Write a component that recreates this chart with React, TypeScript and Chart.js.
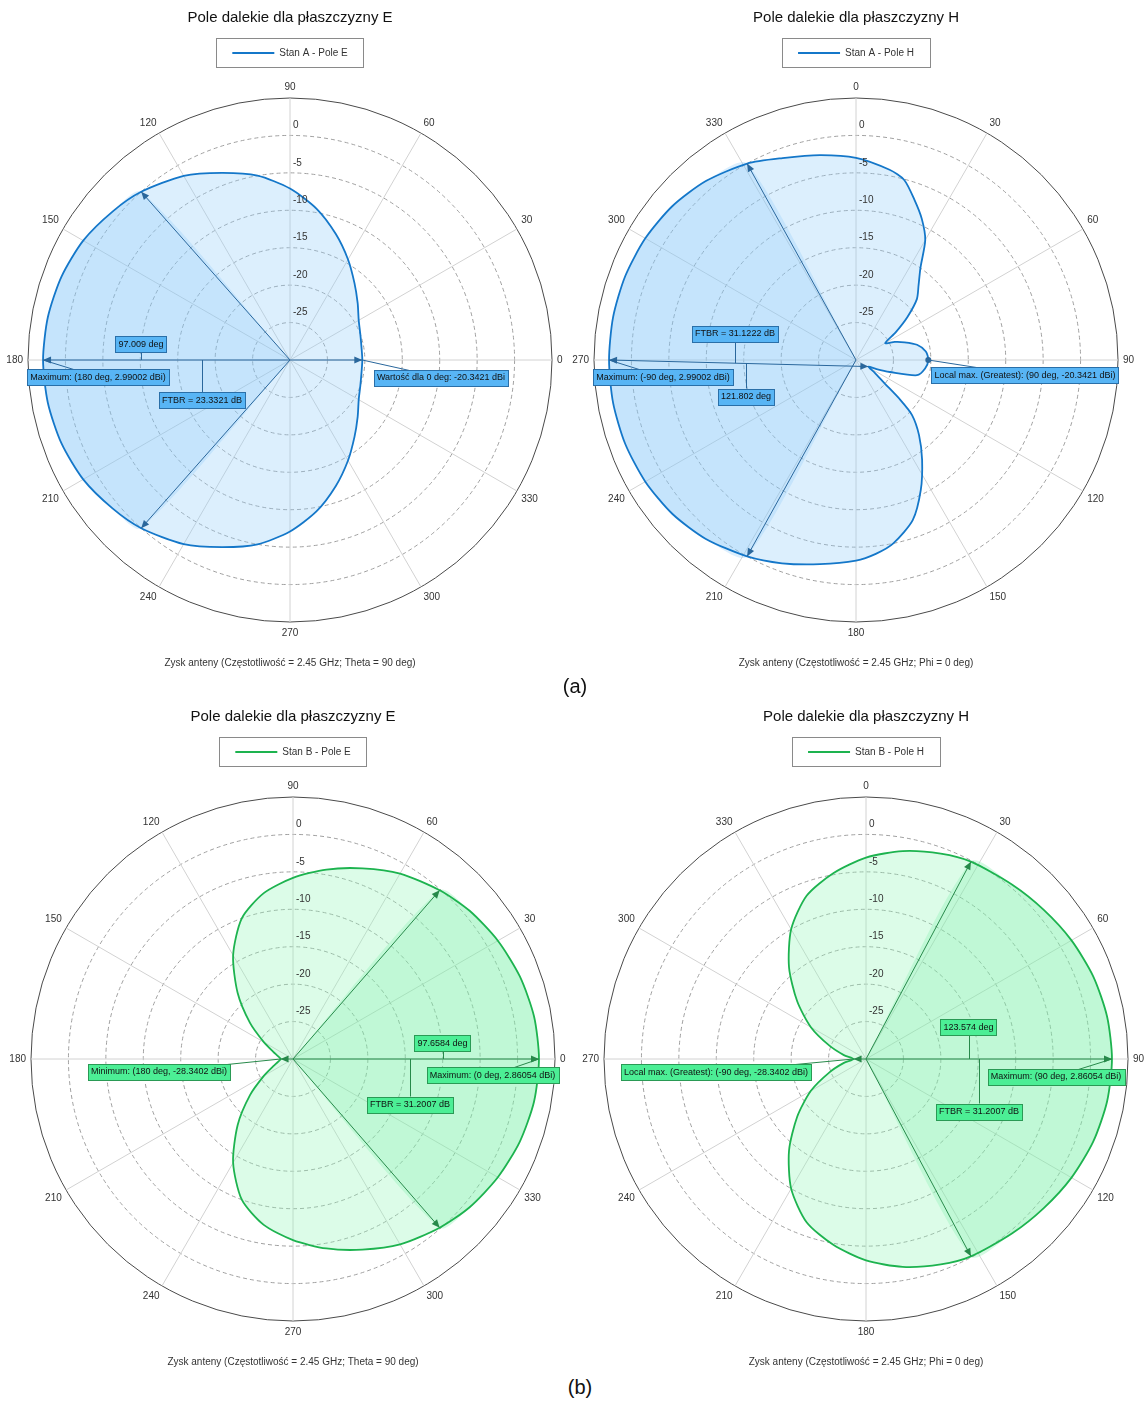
import React, { useEffect, useRef } from 'react';
import { Chart, registerables, layouts } from 'chart.js';

Chart.register(...registerables);

const FONT = "'Liberation Sans', Arial, Helvetica, sans-serif";

// ---------------- data ----------------
const R_MIN = -30;
const R_MAX = 5;
const R_STEP = 5;
const TICK_VALUES = [0, -5, -10, -15, -20, -25];
const ANGLE_STEP = 0.5; // resolution of the angular category axis (deg)

// Stan A - Pole E (Theta = 90 deg); angle = azimuth in deg
const AE_ANGLES = [0, 10, 20, 30, 40, 50, 60, 70, 80, 90, 100, 110, 120, 131.5, 140, 150, 160, 170, 180, 190, 200, 210, 220, 228.5, 240, 250, 260, 270, 280, 290, 300, 310, 320, 330, 340, 350];
const AE_GAINS = [-20.34, -20.3, -20.0, -19.4, -18.2, -16.6, -14.5, -12.1, -9.5, -7.1, -5.0, -3.4, -1.6, 0.0, 0.9, 1.9, 2.5, 2.85, 2.99, 2.85, 2.5, 1.9, 0.9, 0.0, -1.6, -3.4, -5.0, -7.1, -9.5, -12.1, -14.5, -16.6, -18.2, -19.4, -20.0, -20.3];
const AE_BEAM = [131.5, 228.5];
const AE_MAX = [180, 2.99002];
const AE_BACK = [0, -20.3421];

// Stan A - Pole H (Phi = 0 deg)
const AH_ANGLES = [0, 10, 15, 20, 25, 30, 35, 40, 45, 50, 55, 60, 65, 70, 76, 83, 90, 97, 104, 109.5, 114, 118, 124, 129, 132, 134.5, 140, 146.5, 153.5, 160.5, 168.5, 174, 180, 190, 200, 209, 220, 230, 240, 250, 260, 270, 280, 290, 300, 310, 320, 331, 340, 350];
const AH_GAINS = [-3.0, -4.2, -5.1, -7.2, -9.2, -11.5, -15.0, -17.0, -18.5, -21.0, -23.5, -25.5, -24.3, -23.1, -21.6, -20.6, -20.34, -20.7, -21.6, -25.2, -27.0, -28.13, -27.0, -25.2, -22.0, -19.5, -16.9, -14.0, -10.6, -7.3, -5.0, -4.0, -3.2, -2.3, -1.1, 0, 1.2, 2.0, 2.5, 2.8, 2.95, 2.99, 2.95, 2.8, 2.5, 2.0, 1.2, 0, -1.3, -2.2];
const AH_BEAM = [209, 331];
const AH_MAX = [270, 2.99002];
const AH_BACK = [118, -28.13];
const AH_LOCAL = [90, -20.3421];

// Stan B - Pole E (Theta = 90 deg)
const BE_ANGLES = [0, 10, 20, 30, 40, 49, 60, 70, 80, 90, 100, 110, 120, 130, 140, 150, 160, 170, 180, 190, 200, 210, 220, 230, 240, 250, 260, 270, 280, 290, 300, 311, 320, 330, 340, 350];
const BE_GAINS = [2.86, 2.7, 2.25, 1.6, 0.8, -0.14, -1.4, -2.9, -4.3, -5.8, -7.5, -10, -14, -18.5, -22.5, -25.5, -27.2, -28.0, -28.34, -28.0, -27.2, -25.5, -22.5, -18.5, -14, -10, -7.5, -5.8, -4.3, -2.9, -1.4, -0.14, 0.8, 1.6, 2.25, 2.7];
const BE_BEAM = [311, 49];
const BE_MAX = [0, 2.86054];
const BE_BACK = [180, -28.3402];

// Stan B - Pole H (Phi = 0 deg)
const BH_ANGLES = [0, 10, 20, 28, 40, 50, 60, 70, 80, 90, 100, 110, 120, 130, 140, 152, 160, 170, 180, 190, 200, 210, 220, 230, 240, 250, 260, 270, 280, 290, 300, 310, 320, 330, 340, 350];
const BH_GAINS = [-3.1, -1.8, -0.8, -0.14, 0.4, 1.0, 1.7, 2.3, 2.7, 2.86, 2.7, 2.3, 1.7, 1.0, 0.4, -0.14, -0.8, -1.8, -3.1, -4.8, -6.8, -10, -14, -18, -21.5, -24.8, -27, -28.34, -27, -24.8, -21.5, -18, -14, -10, -6.8, -4.8];
const BH_BEAM = [28, 152];
const BH_MAX = [90, 2.86054];
const BH_BACK = [270, -28.3402];

// ---------------- styles / layout ----------------
const CW = 610;
const CH = 676;
const TENSION = 0.25;

const BLUE = {
  line: '#1477c9',
  fill: 'rgba(150,205,250,0.33)',
  wedge: 'rgba(100,180,245,0.22)',
  marker: '#2a679c',
  box: '#58b5f5',
  boxBorder: '#2a6fa8',
};
const GREEN = {
  line: '#1db34f',
  fill: 'rgba(150,245,185,0.33)',
  wedge: 'rgba(80,230,140,0.24)',
  marker: '#27894a',
  box: '#4cee95',
  boxBorder: '#2a9a55',
};

type Leader = 'v' | 'max' | 'back' | 'local';
interface BoxSpec { text: string; dx: number; dy: number; leader: Leader }

interface Spec {
  title: string;
  legend: string;
  subtitle: string;
  base: number;
  dir: number;
  angles: number[];
  gains: number[];
  beam: number[];
  max: number[];
  back: number[];
  local?: number[];
  pal: typeof BLUE;
  boxes: BoxSpec[];
}

const mod = (a: number, m: number) => ((a % m) + m) % m;
const N = Math.round(360 / ANGLE_STEP);

function makeHelpers(spec: Spec) {
  const idx = (a: number) => Math.round(mod((a - spec.base) * spec.dir, 360) / ANGLE_STEP) % N;
  const angleAt = (i: number) => mod(spec.base + spec.dir * i * ANGLE_STEP, 360);
  return { idx, angleAt };
}

function buildConfig(spec: Spec): any {
  const { idx, angleAt } = makeHelpers(spec);
  const labels: string[] = [];
  for (let i = 0; i < N; i++) labels.push(String(angleAt(i)));

  const main: (number | null)[] = new Array(N).fill(null);
  spec.angles.forEach((a, k) => { main[idx(a)] = spec.gains[k]; });

  const wedge: (number | null)[] = new Array(N).fill(null);
  const [b1, b2] = spec.beam;
  const span = mod(b2 - b1, 360);
  const inside = (a: number) => mod(a - b1, 360) <= span + 1e-9;
  spec.angles.forEach((a, k) => { if (inside(a)) wedge[idx(a)] = spec.gains[k]; });
  [idx(b1), idx(b2)].forEach((i) => {
    [(i + 1) % N, (i - 1 + N) % N].forEach((j) => {
      if (!inside(angleAt(j))) wedge[j] = R_MIN;
    });
  });

  const pal = spec.pal;

  const decor = {
    id: 'decor',
    beforeInit(chart: any) {
      const box: any = {
        id: 'spacer',
        position: 'top',
        weight: 1,
        fullSize: true,
        options: {},
        top: 0, left: 0, right: 0, bottom: 0, width: 0, height: 0,
        isHorizontal() { return true; },
        update(maxWidth: number) { this.width = maxWidth; this.height = 13; },
        draw() {},
      };
      layouts.addBox(chart, box);
    },
    afterDatasetsDraw(chart: any) {
      const ctx = chart.ctx as CanvasRenderingContext2D;
      const scale = chart.scales.r;
      const cx = scale.xCenter;
      const cy = scale.yCenter;
      const P = (p: number[]) => scale.getPointPositionForValue(idx(p[0]), p[1]);

      // radial tick labels
      ctx.save();
      ctx.font = `10px ${FONT}`;
      ctx.fillStyle = '#333';
      ctx.textAlign = 'left';
      ctx.textBaseline = 'middle';
      TICK_VALUES.forEach((v) => {
        const d = scale.getDistanceFromCenterForValue(v);
        ctx.fillText(String(v), cx + 3, cy - d - 10);
      });
      ctx.restore();

      const gainAt = (a: number) => spec.gains[spec.angles.indexOf(a)];
      const e1 = P([b1, gainAt(b1)]);
      const e2 = P([b2, gainAt(b2)]);
      const pm = P(spec.max);
      const pb = P(spec.back);

      ctx.save();
      ctx.strokeStyle = pal.marker;
      ctx.fillStyle = pal.marker;
      ctx.lineWidth = 1;
      const line = (a: any, b: any) => { ctx.beginPath(); ctx.moveTo(a.x, a.y); ctx.lineTo(b.x, b.y); ctx.stroke(); };
      const arrow = (p: any, from: any) => {
        let ux = p.x - from.x; let uy = p.y - from.y;
        const L = Math.hypot(ux, uy) || 1; ux /= L; uy /= L;
        const len = 8; const hw = 3.5;
        const bx = p.x - ux * len; const by = p.y - uy * len;
        ctx.beginPath();
        ctx.moveTo(p.x, p.y);
        ctx.lineTo(bx - uy * hw, by + ux * hw);
        ctx.lineTo(bx + uy * hw, by - ux * hw);
        ctx.closePath();
        ctx.fill();
      };
      const c = { x: cx, y: cy };
      line(c, e1); line(c, e2); line(pm, pb);
      arrow(e1, c); arrow(e2, c); arrow(pm, pb); arrow(pb, pm);
      let pl: any = null;
      if (spec.local) {
        pl = P(spec.local);
        ctx.beginPath(); ctx.arc(pl.x, pl.y, 3, 0, Math.PI * 2); ctx.fill();
      }

      // annotation boxes
      ctx.font = `9px ${FONT}`;
      spec.boxes.forEach((b) => {
        const w = ctx.measureText(b.text).width + 6;
        const h = 16;
        const bx = cx + b.dx; const by = cy + b.dy;
        ctx.strokeStyle = pal.marker;
        ctx.lineWidth = 1;
        if (b.leader === 'v') {
          const t = (bx - pm.x) / ((pb.x - pm.x) || 1);
          const yl = pm.y + t * (pb.y - pm.y);
          const ys = by > yl ? by - h / 2 : by + h / 2;
          line({ x: Math.round(bx) + 0.5, y: ys }, { x: Math.round(bx) + 0.5, y: yl });
        } else {
          const target = b.leader === 'max' ? pm : b.leader === 'back' ? pb : pl;
          if (target) line(target, { x: bx, y: by });
        }
        const x0 = Math.round(bx - w / 2) + 0.5; const y0 = Math.round(by - h / 2) + 0.5;
        ctx.fillStyle = pal.box;
        ctx.fillRect(x0, y0, Math.round(w), h);
        ctx.strokeStyle = pal.boxBorder;
        ctx.strokeRect(x0, y0, Math.round(w), h);
        ctx.fillStyle = '#111';
        ctx.textAlign = 'center';
        ctx.textBaseline = 'middle';
        ctx.fillText(b.text, bx, by + 0.5);
      });
      ctx.restore();
    },
    afterDraw(chart: any) {
      const lg = chart.legend;
      if (!lg || !lg.legendHitBoxes || !lg.legendHitBoxes.length) return;
      const hb = lg.legendHitBoxes[0];
      const ctx = chart.ctx as CanvasRenderingContext2D;
      ctx.save();
      ctx.strokeStyle = '#8a8a8a';
      ctx.lineWidth = 1;
      ctx.strokeRect(Math.round(hb.left - 16) + 0.5, Math.round(lg.top) + 0.5, Math.round(hb.width + 32), Math.round(lg.height) - 1);
      ctx.restore();
    },
  };

  const isMajor = (c: any) => c.label !== '' && c.label !== undefined && Number(c.label) % 30 === 0;

  return {
    type: 'radar',
    data: {
      labels,
      datasets: [
        {
          label: spec.legend,
          data: main,
          borderColor: pal.line,
          borderWidth: 1.8,
          backgroundColor: pal.fill,
          fill: 'start',
          pointRadius: 0,
          pointHoverRadius: 0,
          spanGaps: true,
          tension: TENSION,
        },
        {
          label: 'beam',
          data: wedge,
          borderColor: 'rgba(0,0,0,0)',
          borderWidth: 0,
          backgroundColor: pal.wedge,
          fill: 'start',
          pointRadius: 0,
          pointHoverRadius: 0,
          spanGaps: true,
          tension: TENSION,
        },
      ],
    },
    options: {
      animation: false,
      responsive: false,
      maintainAspectRatio: false,
      events: [],
      layout: { padding: 0 },
      plugins: {
        title: {
          display: true,
          text: spec.title,
          color: '#111',
          font: { family: FONT, size: 15, weight: 'normal' },
          padding: { top: 9, bottom: 11 },
        },
        legend: {
          display: true,
          position: 'top',
          labels: {
            filter: (it: any) => it.datasetIndex === 0,
            usePointStyle: true,
            pointStyle: 'line',
            pointStyleWidth: 42,
            color: '#333',
            font: { family: FONT, size: 10 },
            padding: 10,
          },
        },
        subtitle: {
          display: true,
          position: 'bottom',
          text: spec.subtitle,
          color: '#333',
          font: { family: FONT, size: 10, weight: 'normal' },
          padding: { top: 18, bottom: 7 },
        },
        tooltip: { enabled: false },
      },
      scales: {
        r: {
          min: R_MIN,
          max: R_MAX,
          startAngle: 0,
          ticks: { display: false, stepSize: R_STEP },
          grid: {
            circular: true,
            color: (c: any) => (c.tick && c.tick.value === R_MAX ? '#4a4a4a' : '#a0a0a0'),
            lineWidth: 1,
          },
          border: {
            dash: (c: any) => (c.tick && c.tick.value === R_MAX ? [] : [4, 3]),
          },
          angleLines: {
            display: true,
            color: (c: any) => (isMajor(c) ? '#d2d2d2' : 'rgba(0,0,0,0)'),
            lineWidth: (c: any) => (isMajor(c) ? 1 : 0),
          },
          pointLabels: {
            display: true,
            padding: 5,
            color: '#333',
            font: { family: FONT, size: 10 },
            callback: (label: string) => (Number(label) % 30 === 0 ? label : ''),
          },
        },
      },
    },
    plugins: [decor],
  };
}

const SPECS: { spec: Spec; left: number; top: number }[] = [
  {
    left: 290 - CW / 2,
    top: 0,
    spec: {
      title: 'Pole dalekie dla płaszczyzny E',
      legend: 'Stan A - Pole E',
      subtitle: 'Zysk anteny (Częstotliwość = 2.45 GHz; Theta = 90 deg)',
      base: 90, dir: -1,
      angles: AE_ANGLES, gains: AE_GAINS, beam: AE_BEAM, max: AE_MAX, back: AE_BACK,
      pal: BLUE,
      boxes: [
        { text: '97.009 deg', dx: -149, dy: -16, leader: 'v' },
        { text: 'Maximum: (180 deg, 2.99002 dBi)', dx: -192, dy: 17, leader: 'max' },
        { text: 'FTBR = 23.3321 dB', dx: -88, dy: 40, leader: 'v' },
        { text: 'Wartość dla 0 deg: -20.3421 dBi', dx: 151, dy: 17.5, leader: 'back' },
      ],
    },
  },
  {
    left: 856 - CW / 2,
    top: 0,
    spec: {
      title: 'Pole dalekie dla płaszczyzny H',
      legend: 'Stan A - Pole H',
      subtitle: 'Zysk anteny (Częstotliwość = 2.45 GHz; Phi = 0 deg)',
      base: 0, dir: 1,
      angles: AH_ANGLES, gains: AH_GAINS, beam: AH_BEAM, max: AH_MAX, back: AH_BACK, local: AH_LOCAL,
      pal: BLUE,
      boxes: [
        { text: 'FTBR = 31.1222 dB', dx: -121, dy: -26.5, leader: 'v' },
        { text: '121.802 deg', dx: -110, dy: 36.5, leader: 'v' },
        { text: 'Maximum: (-90 deg, 2.99002 dBi)', dx: -193, dy: 17, leader: 'max' },
        { text: 'Local max. (Greatest): (90 deg, -20.3421 dBi)', dx: 169, dy: 15, leader: 'local' },
      ],
    },
  },
  {
    left: 293 - CW / 2,
    top: 699,
    spec: {
      title: 'Pole dalekie dla płaszczyzny E',
      legend: 'Stan B - Pole E',
      subtitle: 'Zysk anteny (Częstotliwość = 2.45 GHz; Theta = 90 deg)',
      base: 90, dir: -1,
      angles: BE_ANGLES, gains: BE_GAINS, beam: BE_BEAM, max: BE_MAX, back: BE_BACK,
      pal: GREEN,
      boxes: [
        { text: '97.6584 deg', dx: 149.5, dy: -16, leader: 'v' },
        { text: 'Maximum: (0 deg, 2.86054 dBi)', dx: 199.5, dy: 16, leader: 'max' },
        { text: 'FTBR = 31.2007 dB', dx: 117, dy: 45.5, leader: 'v' },
        { text: 'Minimum: (180 deg, -28.3402 dBi)', dx: -134, dy: 12.5, leader: 'back' },
      ],
    },
  },
  {
    left: 866 - CW / 2,
    top: 699,
    spec: {
      title: 'Pole dalekie dla płaszczyzny H',
      legend: 'Stan B - Pole H',
      subtitle: 'Zysk anteny (Częstotliwość = 2.45 GHz; Phi = 0 deg)',
      base: 0, dir: 1,
      angles: BH_ANGLES, gains: BH_GAINS, beam: BH_BEAM, max: BH_MAX, back: BH_BACK,
      pal: GREEN,
      boxes: [
        { text: '123.574 deg', dx: 102.5, dy: -32, leader: 'v' },
        { text: 'Maximum: (90 deg, 2.86054 dBi)', dx: 190, dy: 17.5, leader: 'max' },
        { text: 'FTBR = 31.2007 dB', dx: 113, dy: 52.5, leader: 'v' },
        { text: 'Local max. (Greatest): (-90 deg, -28.3402 dBi)', dx: -150, dy: 13, leader: 'back' },
      ],
    },
  },
];

function PolarChart({ spec, left, top }: { spec: Spec; left: number; top: number }) {
  const ref = useRef<HTMLCanvasElement>(null);
  useEffect(() => {
    const chart = new Chart(ref.current as HTMLCanvasElement, buildConfig(spec));
    return () => chart.destroy();
  }, [spec]);
  return (
    <canvas
      ref={ref}
      width={CW}
      height={CH}
      style={{ position: 'absolute', left, top, width: CW, height: CH }}
    />
  );
}

export default function App() {
  return (
    <div
      style={{
        position: 'absolute',
        left: 0,
        top: 0,
        width: 1147,
        height: 1403,
        overflow: 'hidden',
        background: '#fff',
      }}
    >
      {SPECS.map((s, i) => (
        <PolarChart key={i} spec={s.spec} left={s.left} top={s.top} />
      ))}
      <div style={{ position: 'absolute', left: 545, top: 675, width: 60, textAlign: 'center', font: `20px ${FONT}`, color: '#111' }}>(a)</div>
      <div style={{ position: 'absolute', left: 550, top: 1376, width: 60, textAlign: 'center', font: `20px ${FONT}`, color: '#111' }}>(b)</div>
    </div>
  );
}
